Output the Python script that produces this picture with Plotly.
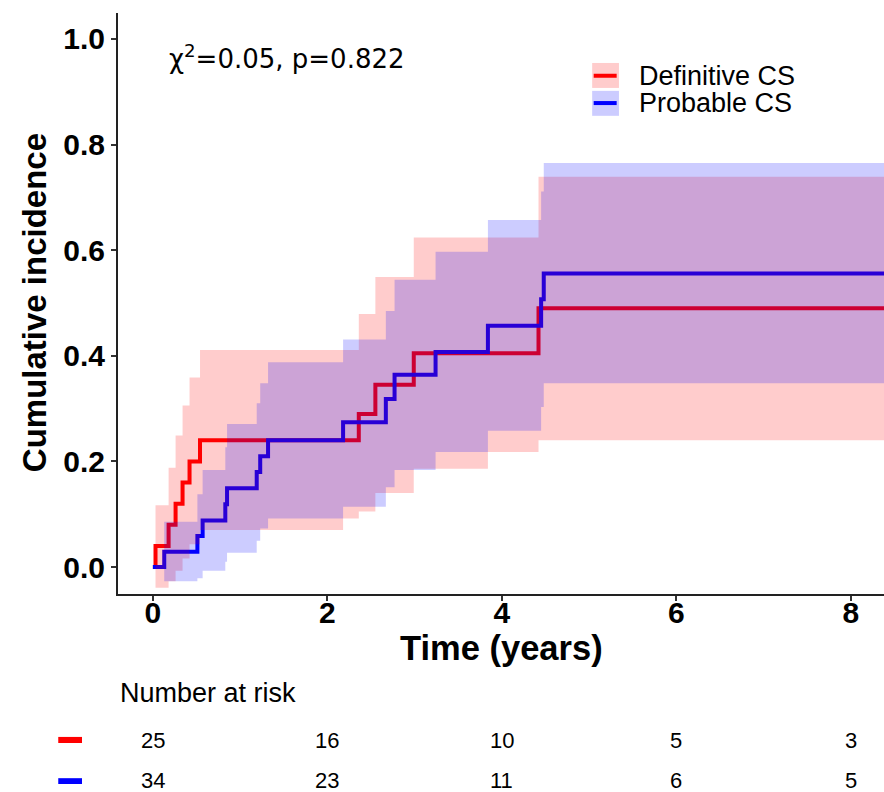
import numpy as np
import plotly.graph_objects as go

# ---------------- data ----------------
end_time = 8.6  # end of follow-up

red_time  = [0, 0.03, 0.18, 0.26, 0.34, 0.42, 0.54, 2.18, 2.36, 2.55, 2.99, 3.84, 4.42]
red_est   = [0, 0.04, 0.08, 0.12, 0.16, 0.20, 0.24, 0.24, 0.29, 0.345, 0.405, 0.405, 0.49]
red_upper = [0, 0.117, 0.188, 0.249, 0.306, 0.359, 0.411, 0.411, 0.479, 0.549, 0.624, 0.624, 0.739]
red_lower = [0, -0.039, -0.027, -0.007, 0.016, 0.043, 0.070, 0.092, 0.105, 0.140, 0.186, 0.218, 0.240]

blue_time  = [0, 0.13, 0.51, 0.57, 0.83, 0.85, 1.19, 1.23, 1.32, 2.18, 2.67, 2.77, 3.24, 3.84, 4.45, 4.48]
blue_est   = [0, 0.029, 0.059, 0.088, 0.119, 0.149, 0.180, 0.210, 0.240, 0.274, 0.318, 0.364, 0.407, 0.457, 0.507, 0.556]
blue_upper = [0, 0.086, 0.138, 0.184, 0.227, 0.271, 0.310, 0.348, 0.388, 0.431, 0.485, 0.544, 0.597, 0.657, 0.711, 0.765]
blue_lower = [0, -0.027, -0.021, -0.007, 0.010, 0.027, 0.050, 0.073, 0.092, 0.114, 0.151, 0.184, 0.218, 0.258, 0.303, 0.348]

group_names = ["Definitive CS", "Probable CS"]
risk_times = [0, 2, 4, 6, 8]
red_risk = [25, 16, 10, 5, 3]
blue_risk = [34, 23, 11, 6, 5]
x_ticks = [0, 2, 4, 6, 8]
y_ticks = [0.0, 0.2, 0.4, 0.6, 0.8, 1.0]
stat_text = "χ<sup>2</sup>=0.05, p=0.822"

RED = "#FF0000"
BLUE = "#0000FF"
RED_FILL = "rgba(255,0,0,0.2)"
BLUE_FILL = "rgba(0,0,255,0.2)"


def steps(t, v, end):
    t = list(t) + [end]
    xs, ys = [], []
    for i in range(len(v)):
        xs += [t[i], t[i + 1]]
        ys += [v[i], v[i]]
    return np.array(xs), np.array(ys)


def band(t, lo, hi, end):
    xu, yu = steps(t, hi, end)
    xl, yl = steps(t, lo, end)
    return np.concatenate([xu, xl[::-1]]), np.concatenate([yu, yl[::-1]])


fig = go.Figure()

# lines first (bands are drawn over them, as in the reference)
for t, est, col in [(red_time, red_est, RED), (blue_time, blue_est, BLUE)]:
    xs, ys = steps(t, est, end_time)
    fig.add_trace(go.Scatter(x=xs, y=ys, mode="lines",
                             line=dict(color=col, width=4),
                             showlegend=False, hoverinfo="skip"))

for t, lo, hi, fc in [(red_time, red_lower, red_upper, RED_FILL),
                      (blue_time, blue_lower, blue_upper, BLUE_FILL)]:
    bx, by = band(t, lo, hi, end_time)
    fig.add_trace(go.Scatter(x=bx, y=by, mode="lines", fill="toself",
                             fillcolor=fc, line=dict(width=0, color=fc),
                             showlegend=False, hoverinfo="skip"))

BOLD = dict(family="Liberation Sans, Arial, sans-serif", size=30, color="black", weight="bold")

fig.update_layout(
    width=884, height=792,
    margin=dict(l=118, r=0, t=13, b=198),
    paper_bgcolor="white", plot_bgcolor="white",
    xaxis=dict(range=[-0.40, 8.38], tickvals=x_ticks, ticktext=[str(v) for v in x_ticks],
               showline=True, linecolor="#222", linewidth=2, mirror=False,
               ticks="outside", ticklen=5, tickwidth=1.5, tickcolor="#333",
               ticklabelstandoff=-14,
               showgrid=False, zeroline=False, tickfont=BOLD),
    yaxis=dict(range=[-0.051, 1.049], tickvals=y_ticks, ticktext=[f"{v:.1f}" for v in y_ticks],
               showline=True, linecolor="#222", linewidth=2,
               ticks="outside", ticklen=5, tickwidth=1.5, tickcolor="#333",
               showgrid=False, zeroline=False, tickfont=BOLD),
)

ann = []
ann.append(dict(text="Cumulative incidence", xref="paper", yref="paper", x=-0.108, y=0.501,
                textangle=-90, showarrow=False, xanchor="center", yanchor="middle",
                font=dict(family="Liberation Sans, Arial", size=33, color="black", weight="bold")))
ann.append(dict(text="Time (years)", xref="paper", yref="paper", x=0.501, y=-0.093,
                showarrow=False, xanchor="center", yanchor="middle",
                font=dict(family="Liberation Sans, Arial", size=34.5, color="black", weight="bold")))
ann.append(dict(text=stat_text, xref="paper", yref="paper", x=0.064, y=0.924,
                showarrow=False, xanchor="left", yanchor="middle",
                font=dict(family="DejaVu Sans, sans-serif", size=26, color="black")))
for name, yy in zip(group_names, [0.892, 0.845]):
    ann.append(dict(text=name, xref="paper", yref="paper", x=0.678, y=yy,
                    showarrow=False, xanchor="left", yanchor="middle",
                    font=dict(family="Liberation Sans, Arial", size=27, color="black")))
ann.append(dict(text="Number at risk", xref="paper", yref="paper", x=0.0, y=-0.170,
                showarrow=False, xanchor="left", yanchor="middle",
                font=dict(family="Liberation Sans, Arial", size=27, color="black")))
for risk, yy in [(red_risk, -0.253), (blue_risk, -0.321)]:
    for tt, n in zip(risk_times, risk):
        ann.append(dict(text=str(n), xref="x", yref="paper", x=tt, y=yy,
                        showarrow=False, xanchor="center", yanchor="middle",
                        font=dict(family="Liberation Sans, Arial", size=22, color="black")))
fig.update_layout(annotations=ann)

shapes = []
# legend swatches
for (fc, lc, y0, y1, yl) in [(RED_FILL, RED, 0.871, 0.914, 0.892), (BLUE_FILL, BLUE, 0.823, 0.866, 0.845)]:
    shapes.append(dict(type="rect", xref="paper", yref="paper", x0=0.619, x1=0.654, y0=y0, y1=y1,
                       fillcolor=fc, line=dict(width=0)))
    shapes.append(dict(type="line", xref="paper", yref="paper", x0=0.621, x1=0.651, y0=yl, y1=yl,
                       line=dict(color=lc, width=4)))
# risk table colour keys
for col, y0, y1 in [(RED, -0.2565, -0.246), (BLUE, -0.327, -0.317)]:
    shapes.append(dict(type="rect", xref="paper", yref="paper", x0=-0.078, x1=-0.047, y0=y0, y1=y1,
                       fillcolor=col, line=dict(width=0)))
fig.update_layout(shapes=shapes)

fig.write_html("out.html")
